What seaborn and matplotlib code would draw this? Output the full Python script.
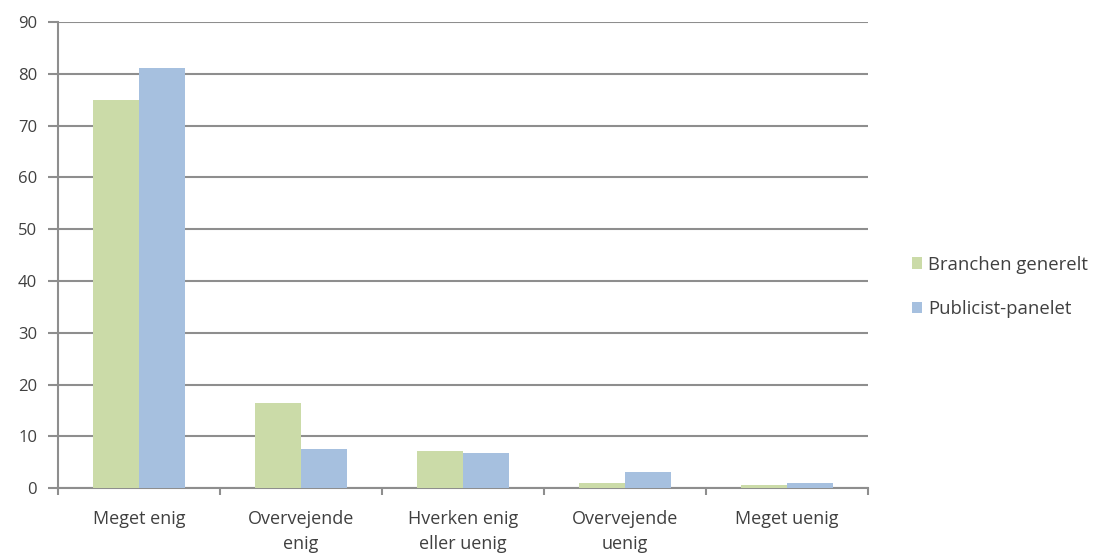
import numpy as np
import pandas as pd
import matplotlib
matplotlib.use("Agg")
import matplotlib.pyplot as plt
import seaborn as sns
from matplotlib.ticker import FixedLocator

# Data
categories = ["Meget enig", "Overvejende\nenig", "Hverken enig\neller uenig",
              "Overvejende\nuenig", "Meget uenig"]
series_names = ["Branchen generelt", "Publicist-panelet"]
branchen = [75.0, 16.5, 7.2, 1.0, 0.5]
publicist = [81.2, 7.5, 6.8, 3.2, 1.0]
colors = ["#CBDBA8", "#A6C0DF"]

df = pd.DataFrame({
    "Kategori": categories * 2,
    "Serie": [series_names[0]] * 5 + [series_names[1]] * 5,
    "Værdi": branchen + publicist,
})

sns.set_style("white")
plt.rcParams["font.family"] = ["Open Sans", "DejaVu Sans"]
text_color = "#404040"
grid_color = "#8E8E8E"

fig = plt.figure(figsize=(11.03, 5.54), dpi=100)
ax = fig.add_axes([0.0526, 0.119, 0.7344, 0.841])

sns.barplot(data=df, x="Kategori", y="Værdi", hue="Serie", palette=colors,
            width=0.57, gap=0, ax=ax, errorbar=None, saturation=1,
            linewidth=0, zorder=3)

ax.set_ylim(0, 90)
ax.set_xlim(-0.5, 4.5)
ax.set_yticks(np.arange(0, 91, 10))
ax.yaxis.grid(True, color=grid_color, linewidth=1.5, zorder=0)
ax.set_axisbelow(True)
ax.set_xlabel("")
ax.set_ylabel("")

for side in ["top", "right"]:
    ax.spines[side].set_visible(False)
for side in ["left", "bottom"]:
    ax.spines[side].set_color(grid_color)
    ax.spines[side].set_linewidth(1.5)

ax.tick_params(axis="y", left=True, length=7, width=1.5, color=grid_color,
               labelsize=12, labelcolor=text_color, pad=8, direction="out")
ax.tick_params(axis="x", which="major", length=0, labelsize=13,
               labelcolor=text_color, pad=16)
for lbl in ax.get_xticklabels():
    lbl.set_linespacing(1.5)
ax.xaxis.set_minor_locator(FixedLocator(np.arange(-0.5, 4.6, 1)))
ax.tick_params(axis="x", which="minor", bottom=True, length=5, width=1.5,
               color=grid_color, direction="out")

ax.legend(loc="center left", bbox_to_anchor=(0.8115, 0.482),
          bbox_transform=fig.transFigure, frameon=False, fontsize=13.3,
          handlelength=0.55, handleheight=0.55, handletextpad=0.35,
          labelspacing=1.45, labelcolor=text_color)

fig.savefig("out.png", dpi=100)
